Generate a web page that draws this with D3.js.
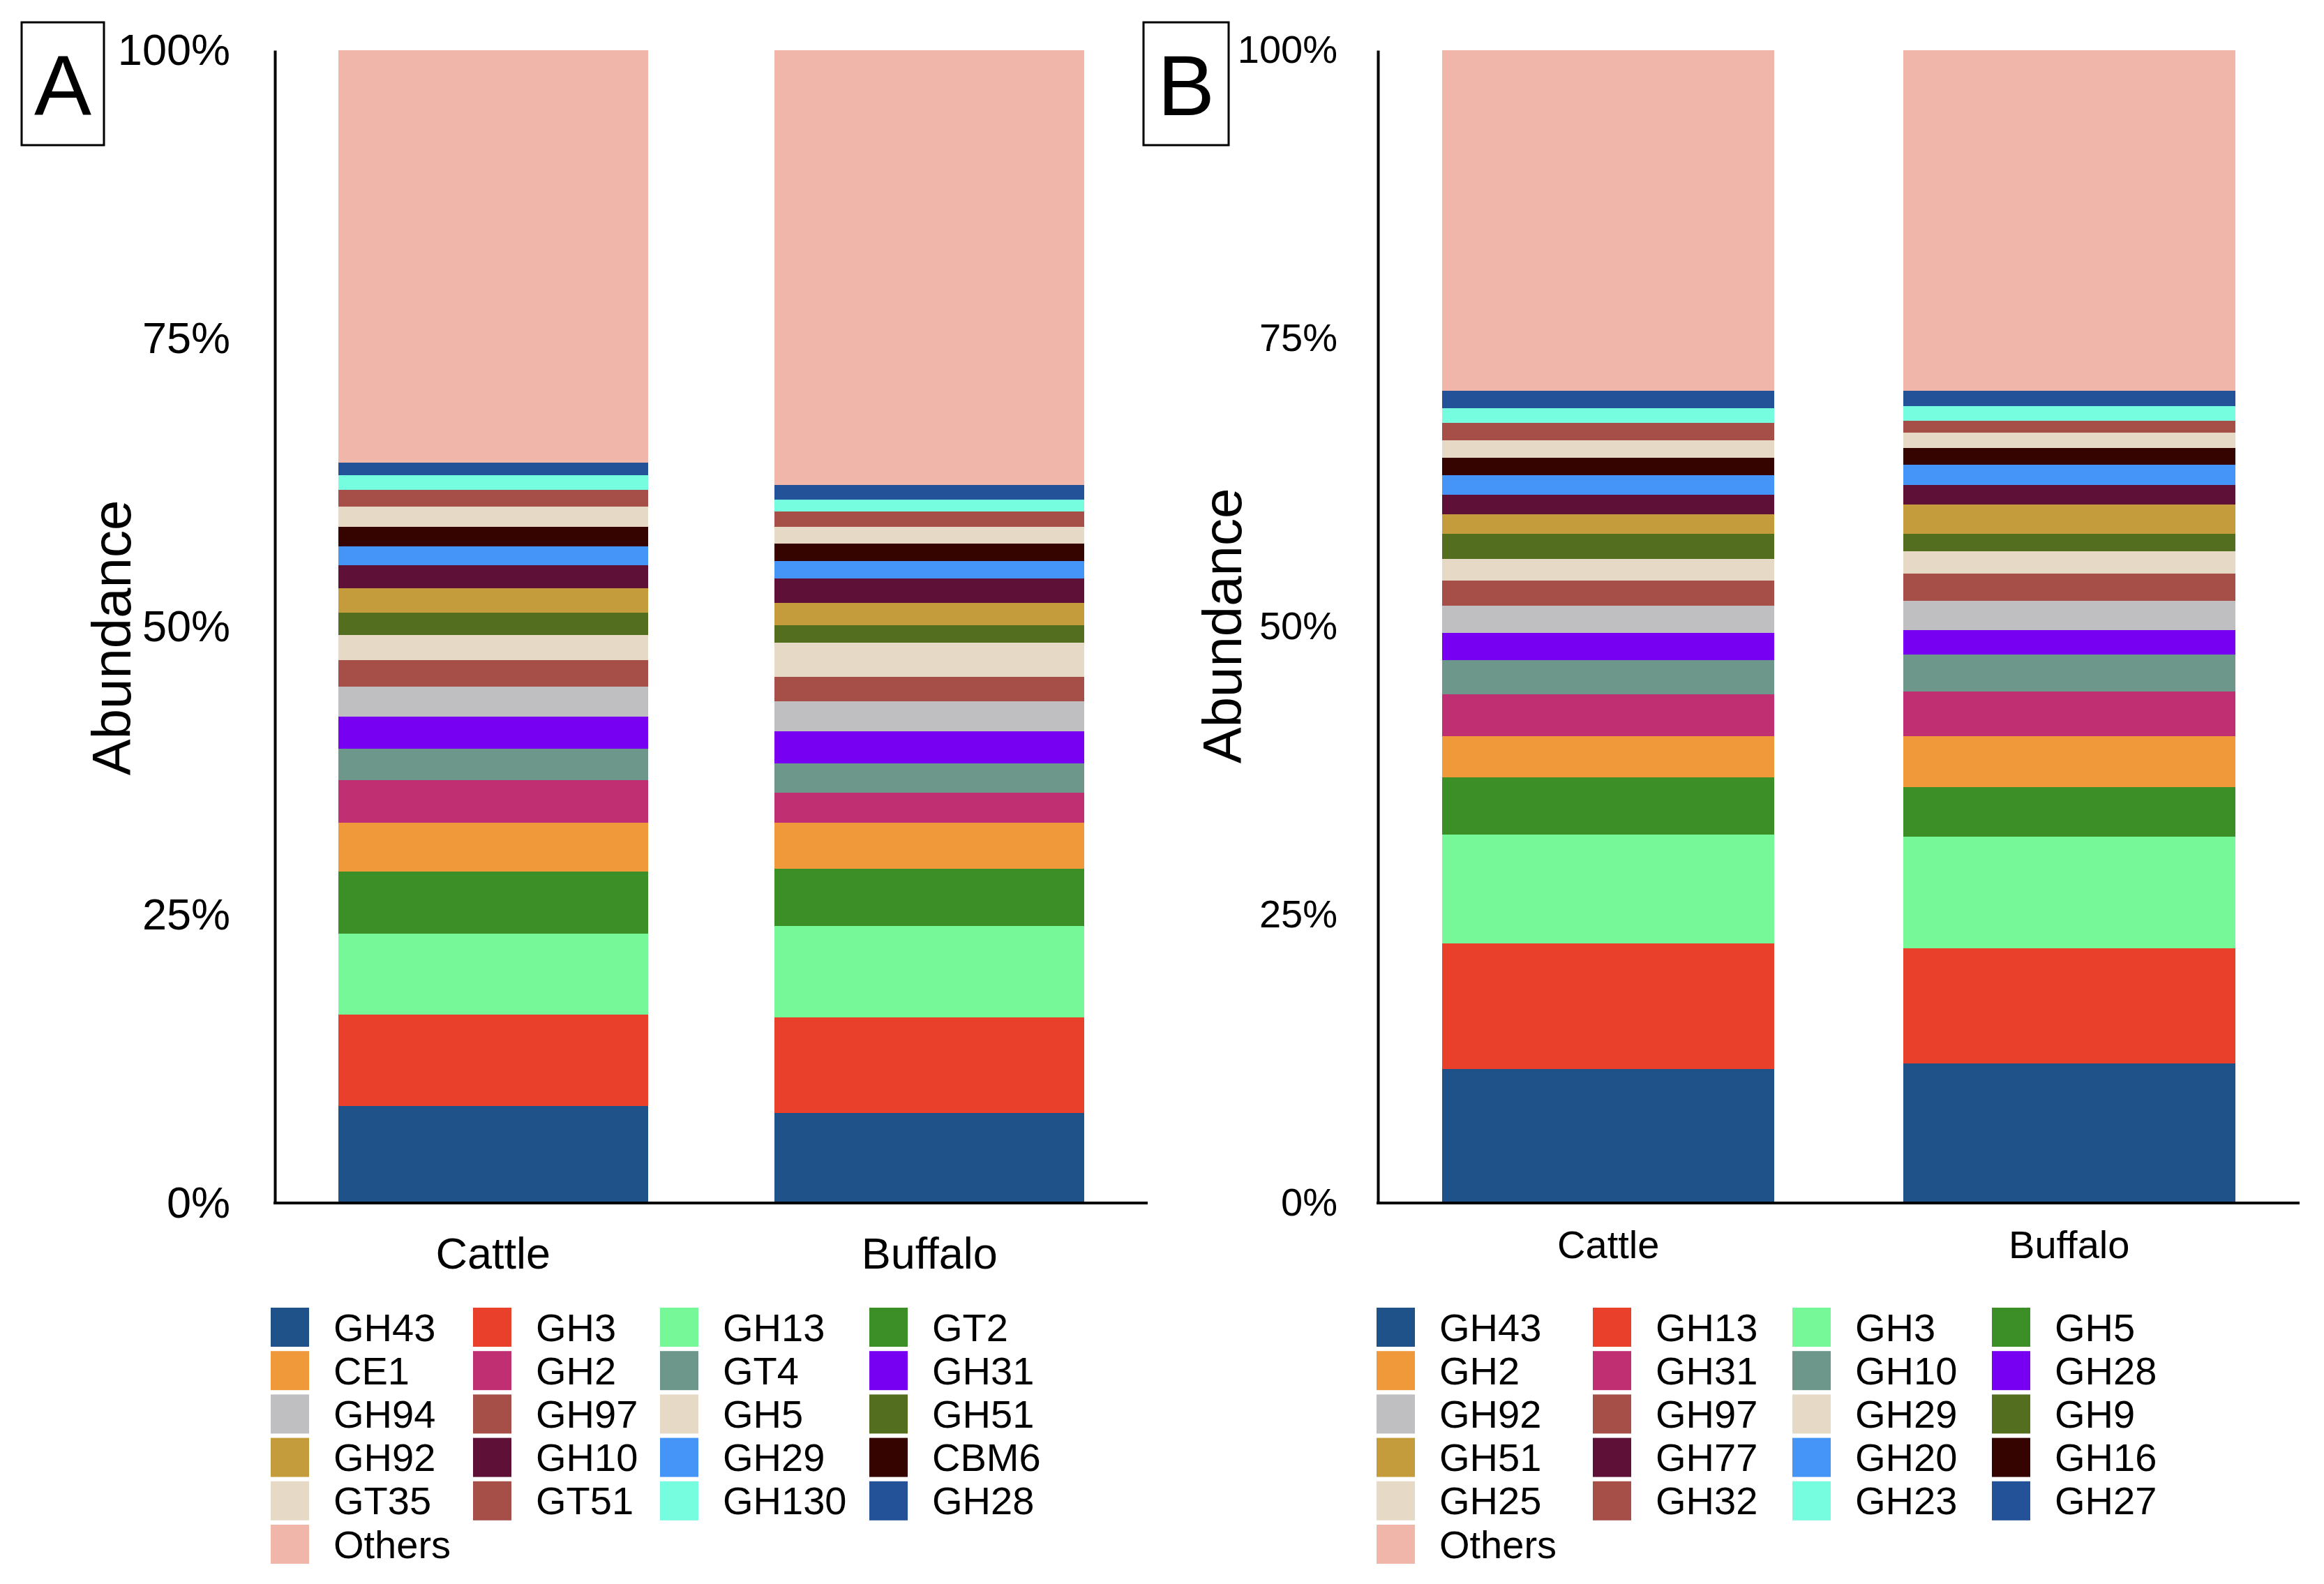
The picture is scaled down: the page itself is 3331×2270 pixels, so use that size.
<!DOCTYPE html>
<html>
<head>
<meta charset="utf-8">
<script src="https://cdn.jsdelivr.net/npm/d3@7"></script>
<style>
  html, body { margin: 0; padding: 0; background: #ffffff; }
  svg { display: block; font-family: "Liberation Sans", Arial, Helvetica, sans-serif; }
</style>
</head>
<body>
<svg id="chart" width="3331" height="2270"></svg>
<script>
// ---------------- DATA ----------------
const samples = ["Cattle", "Buffalo"];
const yTickValues = [0, 25, 50, 75, 100];
const yTickLabels = ["0%", "25%", "50%", "75%", "100%"];
const yAxisTitle = "Abundance";

const categoriesA = ["GH43","GH3","GH13","GT2","CE1","GH2","GT4","GH31","GH94","GH97",
                     "GH5","GH51","GH92","GH10","GH29","CBM6","GT35","GT51","GH130","GH28","Others"];
const cattleA  = [8.41,7.92,7.02,5.42,4.24,3.68,2.72,2.78,2.61,2.30,
                  2.17,1.94,2.14,1.95,1.67,1.69,1.77,1.43,1.29,1.07,35.78];
const buffaloA = [7.78,8.34,7.92,4.94,4.03,2.57,2.57,2.78,2.62,2.10,
                  2.98,1.48,1.95,2.13,1.52,1.49,1.46,1.33,1.03,1.29,37.69];

const categoriesB = ["GH43","GH13","GH3","GH5","GH2","GH31","GH10","GH28","GH92","GH97",
                     "GH29","GH9","GH51","GH77","GH20","GH16","GH25","GH32","GH23","GH27","Others"];
const cattleB  = [11.61,10.91,9.45,4.93,3.61,3.62,2.97,2.37,2.36,2.17,
                  1.87,2.20,1.68,1.68,1.72,1.52,1.49,1.52,1.26,1.52,29.54];
const buffaloB = [12.09,10.01,9.66,4.31,4.44,3.88,3.19,2.12,2.54,2.36,
                  1.94,1.51,2.54,1.70,1.75,1.46,1.33,1.03,1.27,1.33,29.54];

const palette = ["#1f5289","#e8402a","#76f898","#3c8e27","#ef993b","#c12f73","#6c978a",
                 "#7700f3","#bfbfc1","#a64e48","#e6dac6","#546e20","#c49c3c","#5e1036",
                 "#4595f8","#350401","#e6dac6","#a64e48","#76fde0","#245298","#f0b6aa"];

// ---------------- LAYOUT ----------------
const panels = [
  { label: "A", cats: categoriesA, vals: [cattleA, buffaloA],
    x0: 394, x1: 1645, y0: 1724, y1: 72, padding: 0.29,
    tickFont: 63, tickPad: 64, xFont: 63, xPad: 49,
    titleX: 187, titleY: 914,
    box: [31, 32, 118, 176], letterX: 90,
    legendCols: [388, 678, 946, 1246] },
  { label: "B", cats: categoriesB, vals: [cattleB, buffaloB],
    x0: 1975, x1: 3296, y0: 1724, y1: 72, padding: 0.28,
    tickFont: 56, tickPad: 58, xFont: 56, xPad: 39,
    titleX: 1779, titleY: 897,
    box: [1639, 32, 122, 176], letterX: 1700,
    legendCols: [1973, 2283, 2569, 2855] }
];

const svg = d3.select("#chart");
svg.append("rect").attr("width", 3331).attr("height", 2270).attr("fill", "#fff");

panels.forEach(p => {
  const g = svg.append("g");
  const color = d3.scaleOrdinal().domain(p.cats).range(palette);

  const rows = samples.map((s, i) => {
    const r = { sample: s };
    p.cats.forEach((c, j) => { r[c] = p.vals[i][j]; });
    return r;
  });
  const series = d3.stack().keys(p.cats)(rows);

  const x = d3.scaleBand().domain(samples).range([p.x0, p.x1])
              .paddingInner(p.padding).paddingOuter(p.padding / 2);
  const y = d3.scaleLinear().domain([0, 100]).range([p.y0, p.y1]);

  // bars
  g.selectAll("g.layer").data(series).join("g")
    .attr("class", "layer")
    .attr("fill", d => color(d.key))
    .selectAll("rect").data(d => d).join("rect")
      .attr("x", d => x(d.data.sample))
      .attr("width", x.bandwidth())
      .attr("y", d => y(d[1]))
      .attr("height", d => y(d[0]) - y(d[1]))
      .attr("shape-rendering", "crispEdges");

  // y axis
  const yAxis = d3.axisLeft(y).tickValues(yTickValues)
    .tickFormat((d, i) => yTickLabels[i]).tickSize(0).tickSizeOuter(0).tickPadding(p.tickPad);
  const ya = g.append("g").attr("transform", `translate(${p.x0},0)`).call(yAxis);
  ya.select(".domain").attr("stroke", "#000").attr("stroke-width", 4);
  ya.selectAll("text").attr("font-size", p.tickFont).attr("fill", "#000")
    .attr("font-family", "'Liberation Sans', Arial, sans-serif");

  // x axis
  const xAxis = d3.axisBottom(x).tickSize(0).tickSizeOuter(0).tickPadding(p.xPad);
  const xa = g.append("g").attr("transform", `translate(0,${p.y0})`).call(xAxis);
  xa.select(".domain").attr("stroke", "#000").attr("stroke-width", 4)
    .attr("d", `M${p.x0 - 2},0H${p.x1}`);
  xa.selectAll("text").attr("font-size", p.xFont).attr("fill", "#000")
    .attr("font-family", "'Liberation Sans', Arial, sans-serif");

  // y title
  g.append("text")
    .attr("transform", `translate(${p.titleX},${p.titleY}) rotate(-90)`)
    .attr("text-anchor", "middle")
    .attr("font-size", 78)
    .text(yAxisTitle);

  // panel letter box
  g.append("rect")
    .attr("x", p.box[0]).attr("y", p.box[1])
    .attr("width", p.box[2]).attr("height", p.box[3])
    .attr("fill", "none").attr("stroke", "#000").attr("stroke-width", 3);
  g.append("text")
    .attr("x", p.letterX).attr("y", 165)
    .attr("text-anchor", "middle")
    .attr("font-size", 123)
    .text(p.label);

  // legend
  const leg = g.append("g");
  const items = leg.selectAll("g.item").data(p.cats).join("g")
    .attr("class", "item")
    .attr("transform", (d, i) => {
      const col = i % 4, row = Math.floor(i / 4);
      return `translate(${p.legendCols[col]},${1902 + row * 62.2})`;
    });
  items.append("rect")
    .attr("x", 0).attr("y", -28).attr("width", 55).attr("height", 56)
    .attr("fill", d => color(d));
  items.append("text")
    .attr("x", 90).attr("y", 0).attr("dy", "0.35em")
    .attr("font-size", 56)
    .text(d => d);
});
</script>
</body>
</html>
